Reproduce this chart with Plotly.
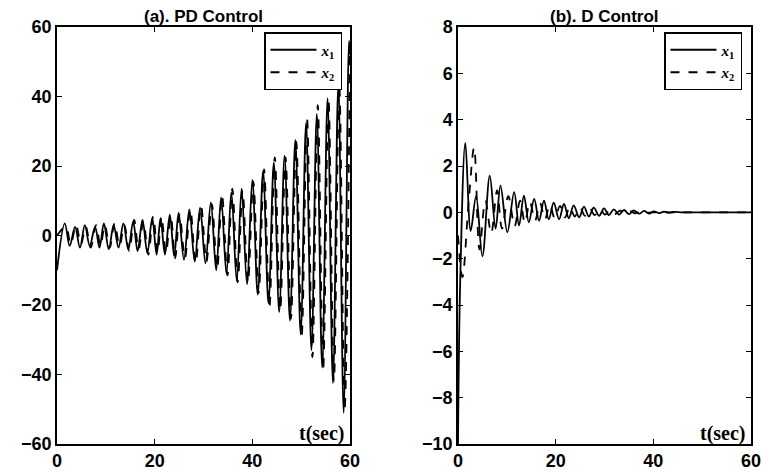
import plotly.graph_objects as go

# ---- data (extrema of the oscillations) ----
pd_t1 = [0, 1.6, 2.6, 3.7, 4.7, 5.7, 6.7, 7.8, 8.7, 9.6, 10.6, 11.6, 12.6, 13.6, 14.6, 15.6, 16.5, 17.5, 18.5, 19.5,
         20.4, 21.2, 22.1, 23.1, 24.0, 24.9, 26.0, 27.1, 28.2, 29.3, 30.4, 31.5, 32.6, 33.6, 34.7, 35.7, 36.8, 37.8, 38.9, 40.0,
         41.1, 42.2, 43.3, 44.4, 45.5, 46.6, 47.7, 48.8, 49.9, 51.0, 52.1, 53.2, 54.3, 55.4, 56.5, 57.6, 58.7, 59.8, 60.0]
pd_x1 = [-10, 3.5, -3, 2.5, -3.5, 3, -3, 2.5, -3.5, 3.5, -4, 3, -3.5, 3.5, -4, 4, -4.5, 4.5, -5, 5,
         -5.5, 5, -5.5, 6, -6, 6.5, -7, 7.5, -7.5, 8, -8, 9.5, -10, 11, -11, 12.5, -13, 13.5, -14, 16,
         -17, 18.5, -19.5, 21, -22, 23, -24.5, 27.5, -28.5, 32.5, -33, 35, -38, 39.5, -42.5, 43.5, -51, 56, 52]

pd_t2 = [0, 1.8, 2.8, 3.9, 4.9, 5.9, 6.9, 8.0, 8.9, 9.8, 10.8, 11.8, 12.8, 13.8, 14.8, 15.8, 16.7, 17.7, 18.7, 19.7,
         20.6, 21.4, 22.3, 23.3, 24.2, 25.1, 26.2, 27.3, 28.4, 29.5, 30.6, 31.7, 32.8, 33.8, 34.9, 35.9, 37.0, 38.0, 39.1, 40.2,
         41.3, 42.4, 43.5, 44.6, 45.7, 46.8, 47.9, 49.0, 50.1, 51.2, 52.3, 53.4, 54.5, 55.6, 56.7, 57.8, 58.9, 60.0]
pd_x2 = [0, 2.5, -2.5, 3, -2.5, 2.5, -3.5, 3, -3, 3, -3.5, 3.5, -3, 3, -4.5, 4.5, -4, 4, -5.5, 5.5,
         -5, 5.5, -5, 5.5, -6.5, 6, -6.5, 7.5, -8, 8.5, -7.5, 9, -9.5, 11.5, -11.5, 13.5, -13.5, 13, -13.5, 15.5,
         -16.5, 19, -20.5, 22.5, -21.5, 22.5, -24, 27, -29, 33.5, -35, 37.5, -38.5, 39, -42, 43, -50, 53]

d_t1 = [0, 0.45, 1.5, 2.6, 3.7, 5.0, 6.5, 7.7, 8.7, 10.1, 11.5, 12.5, 13.5, 14.5, 15.6, 16.6, 17.6, 18.6, 19.6, 20.7,
        21.7, 22.7, 23.7, 24.8, 25.8, 26.8, 27.8, 28.9, 29.9, 30.9, 31.9, 33.0, 34.0, 35.0, 36.0, 37.1, 38.1, 39.1, 40.1, 41.2,
        42.2, 43.2, 44.2, 46, 50, 55, 60]
d_x1 = [-10, -3, 3.0, -0.8, 0.7, -1.9, 1.58, -0.7, 1.15, -0.86, 0.87, -0.57, 0.72, -0.43, 0.58, -0.36, 0.5, -0.3, 0.42, -0.3,
        0.36, -0.25, 0.3, -0.22, 0.25, -0.18, 0.2, -0.15, 0.17, -0.12, 0.13, -0.1, 0.1, -0.08, 0.08, -0.06, 0.06, -0.05, 0.04, -0.03,
        0.03, -0.02, 0.02, 0, 0, 0, 0]

d_t2 = [0, 0.9, 2.2, 3.3, 4.4, 5.6, 6.8, 8.0, 9.0, 10.3, 11.6, 12.7, 13.7, 14.7, 15.8, 16.8, 17.8, 18.8, 19.8, 20.9,
        21.9, 22.9, 23.9, 25.0, 26.0, 27.0, 28.0, 29.1, 30.1, 31.1, 32.1, 33.2, 34.2, 35.2, 36.2, 37.3, 38.3, 40, 45, 50, 60]
d_x2 = [-1, -2.8, 0.5, 2.8, -1.6, 0.5, -0.9, 0.95, -0.7, 0.7, -0.6, 0.5, -0.45, 0.45, -0.35, 0.4, -0.3, 0.32, -0.25, 0.28,
        -0.22, 0.24, -0.18, 0.2, -0.15, 0.16, -0.12, 0.13, -0.1, 0.1, -0.08, 0.07, -0.06, 0.05, -0.04, 0.03, -0.02, 0, 0, 0, 0]

x_ticks = [0, 20, 40, 60]
pd_yticks = [-60, -40, -20, 0, 20, 40, 60]
d_yticks = [-10, -8, -6, -4, -2, 0, 2, 4, 6, 8]
titles = ["(a). PD Control", "(b). D Control"]
names = ["<b><i>x</i><sub>1</sub></b>", "<b><i>x</i><sub>2</sub></b>"]

W, H = 765, 473
ML, MR, MT, MB = 57, 14, 27, 29
PW = W - ML - MR
PH = H - MT - MB

fig = go.Figure()

def add(t, v, name, dash, xa, ya, leg):
    fig.add_trace(go.Scatter(
        x=t, y=v, mode="lines", name=name, xaxis=xa, yaxis=ya, legend=leg,
        line=dict(color="black", width=1.8, dash=dash, shape="spline", smoothing=1.0)))

add(pd_t1, pd_x1, names[0], "solid", "x", "y", "legend")
add(pd_t2, pd_x2, names[1], "dash", "x", "y", "legend")
add(d_t1, d_x1, names[0], "solid", "x2", "y2", "legend2")
add(d_t2, d_x2, names[1], "dash", "x2", "y2", "legend2")

tickfont = dict(family="Liberation Sans", size=18, color="black", weight="bold")
axis_common = dict(showgrid=False, zeroline=False, showline=True, linecolor="black", linewidth=1.5,
                   mirror="ticks", ticks="inside", ticklen=5, tickcolor="black", tickwidth=1,
                   tickfont=tickfont, automargin=False)

lx0, lx1 = 0.0, (350 - ML) / PW
rx0, rx1 = (458 - ML) / PW, 1.0

legfont = dict(family="Liberation Serif", size=15, color="black")
leg_common = dict(xanchor="right", yanchor="top", bordercolor="black", borderwidth=1.5,
                  bgcolor="white", font=legfont, tracegroupgap=0, itemwidth=46)
fig.update_layout(
    width=W, height=H, margin=dict(l=ML, r=MR, t=MT, b=MB, autoexpand=False),
    plot_bgcolor="white", paper_bgcolor="white",
    xaxis=dict(domain=[lx0, lx1], range=[0, 60], tickvals=x_ticks, anchor="y", **axis_common),
    yaxis=dict(domain=[0, 1], range=[-60, 60], tickvals=pd_yticks, anchor="x", **axis_common),
    xaxis2=dict(domain=[rx0, rx1], range=[0, 60], tickvals=x_ticks, anchor="y2", **axis_common),
    yaxis2=dict(domain=[0, 1], range=[-10, 8], tickvals=d_yticks, anchor="x2", **axis_common),
    legend=dict(x=(342 - ML) / PW, y=(H - MB - 32) / PH, **leg_common),
    legend2=dict(x=(742 - ML) / PW, y=(H - MB - 32) / PH, **leg_common),
    showlegend=True,
)

titlefont = dict(family="Liberation Sans", size=17, color="black", weight="bold")
for i, (x0, x1) in enumerate([(lx0, lx1), (rx0, rx1)]):
    fig.add_annotation(text=titles[i], xref="paper", yref="paper", x=(x0 + x1) / 2, y=1.0,
                       xanchor="center", yanchor="bottom", showarrow=False, font=titlefont, yshift=-1)
    fig.add_annotation(text="t(sec)", xref="paper", yref="paper", x=x1, y=0,
                       xanchor="right", yanchor="bottom", showarrow=False, xshift=-3, yshift=-3,
                       font=dict(family="Liberation Serif", size=20, color="black", weight="bold"))

fig.write_html("out.html", config={"displayModeBar": False},
               post_script="document.body.style.margin='0';document.body.style.overflow='hidden';")
